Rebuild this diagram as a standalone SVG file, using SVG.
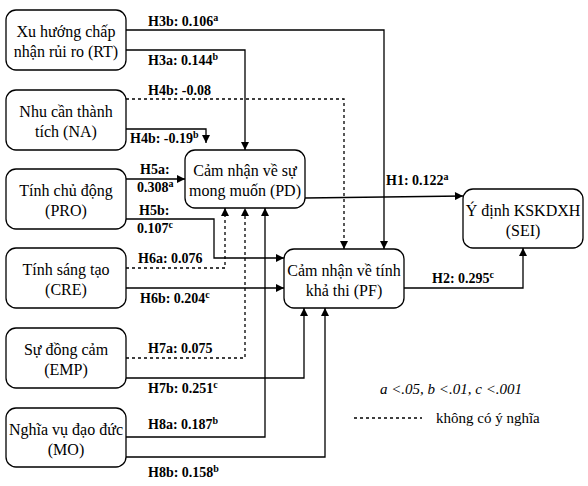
<svg xmlns="http://www.w3.org/2000/svg" width="588" height="486" viewBox="0 0 588 486">
<style>
.box{fill:#fff;stroke:#000;stroke-width:1.3}
.nt{font-family:"Liberation Serif","Times New Roman",serif;font-size:16px;text-anchor:middle;fill:#000}
.lb{font-family:"Liberation Serif","Times New Roman",serif;font-size:14px;font-weight:bold;fill:#000}
.sup{font-size:10px}
.ln{fill:none;stroke:#000;stroke-width:1.3}
.da{stroke-dasharray:3,3}
.arr{marker-end:url(#ah)}
.lg{font-family:"Liberation Serif","Times New Roman",serif;font-size:15px;fill:#000}
</style>
<defs>
<marker id="ah" viewBox="0 0 10 10" refX="10" refY="5" markerWidth="9" markerHeight="8" markerUnits="userSpaceOnUse" orient="auto">
<path d="M0,0 L10,5 L0,10 z" fill="#000"/>
</marker>
</defs>
<rect width="588" height="486" fill="#fff"/>
<g id="connectors">
<polyline class="ln arr" points="126,30 384,30 384,249"/>
<polyline class="ln arr" points="126,50 245,50 245,150"/>
<polyline class="ln da arr" points="126,99 344,99 344,249"/>
<polyline class="ln arr" points="126,129 206,129 206,143"/>
<polyline class="ln arr" points="126,179 185,179"/>
<polyline class="ln arr" points="126,219 214,219 214,258 284,258"/>
<polyline class="ln da arr" points="126,268 225,268 225,208"/>
<polyline class="ln arr" points="126,288 284,288"/>
<polyline class="ln da arr" points="126,358 245,358 245,208"/>
<polyline class="ln arr" points="126,378 304,378 304,308"/>
<polyline class="ln arr" points="126,437 265,437 265,208"/>
<polyline class="ln arr" points="126,457 325,457 325,308"/>
<polyline class="ln arr" points="305,198 463,196"/>
<polyline class="ln arr" points="404,288 523,288 523,248"/>
</g>
<g id="labels">
<text class="lb" x="148" y="26">H3b: 0.106<tspan class="sup" dy="-5">a</tspan></text>
<text class="lb" x="148" y="65">H3a: 0.144<tspan class="sup" dy="-5">b</tspan></text>
<text class="lb" x="148" y="95">H4b: -0.08</text>
<text class="lb" x="130" y="143">H4b: -0.19<tspan class="sup" dy="-5">b</tspan></text>
<text class="lb" x="140" y="174">H5a:</text>
<text class="lb" x="137" y="192">0.308<tspan class="sup" dy="-5">a</tspan></text>
<text class="lb" x="139" y="215">H5b:</text>
<text class="lb" x="137" y="233">0.107<tspan class="sup" dy="-5">c</tspan></text>
<text class="lb" x="138" y="263">H6a: 0.076</text>
<text class="lb" x="140" y="303">H6b: 0.204<tspan class="sup" dy="-5">c</tspan></text>
<text class="lb" x="148" y="353">H7a: 0.075</text>
<text class="lb" x="148" y="393">H7b: 0.251<tspan class="sup" dy="-5">c</tspan></text>
<text class="lb" x="148" y="429">H8a: 0.187<tspan class="sup" dy="-5">b</tspan></text>
<text class="lb" x="148" y="477">H8b: 0.158<tspan class="sup" dy="-5">b</tspan></text>
<text class="lb" x="386" y="185">H1: 0.122<tspan class="sup" dy="-5">a</tspan></text>
<text class="lb" x="432" y="283">H2: 0.295<tspan class="sup" dy="-5">c</tspan></text>
</g>
<g id="RT"><rect class="box" x="6" y="10" width="120" height="60" rx="10"/><text class="nt" x="66" y="37">Xu hướng chấp</text><text class="nt" x="66" y="57">nhận rủi ro (RT)</text></g>
<g id="NA"><rect class="box" x="6" y="90" width="120" height="60" rx="10"/><text class="nt" x="66" y="117">Nhu cần thành</text><text class="nt" x="66" y="137">tích (NA)</text></g>
<g id="PRO"><rect class="box" x="6" y="169" width="120" height="60" rx="10"/><text class="nt" x="66" y="196">Tính chủ động</text><text class="nt" x="66" y="216">(PRO)</text></g>
<g id="CRE"><rect class="box" x="6" y="248" width="120" height="60" rx="10"/><text class="nt" x="66" y="275">Tính sáng tạo</text><text class="nt" x="66" y="295">(CRE)</text></g>
<g id="EMP"><rect class="box" x="6" y="328" width="120" height="60" rx="10"/><text class="nt" x="66" y="355">Sự đồng cảm</text><text class="nt" x="66" y="375">(EMP)</text></g>
<g id="MO"><rect class="box" x="6" y="408" width="120" height="59" rx="10"/><text class="nt" x="66" y="435">Nghĩa vụ đạo đức</text><text class="nt" x="66" y="455">(MO)</text></g>
<g id="PD"><rect class="box" x="185" y="150" width="120" height="58" rx="10"/><text class="nt" x="245" y="176">Cảm nhận về sự</text><text class="nt" x="245" y="196">mong muốn (PD)</text></g>
<g id="PF"><rect class="box" x="284" y="249" width="120" height="59" rx="10"/><text class="nt" x="344" y="276">Cảm nhận về tính</text><text class="nt" x="344" y="296">khả thi (PF)</text></g>
<g id="SEI"><rect class="box" x="463" y="189" width="120" height="59" rx="10"/><text class="nt" x="523" y="216">Ý định KSKDXH</text><text class="nt" x="523" y="236">(SEI)</text></g>
<g id="legend">
<text class="lg" x="380" y="394" font-style="italic">a &lt;.05, b &lt;.01, c &lt;.001</text>
<line class="ln da" x1="354" y1="418" x2="422" y2="418" stroke-width="1"/>
<text class="lg" x="436" y="423">không có ý nghĩa</text>
</g>
</svg>
